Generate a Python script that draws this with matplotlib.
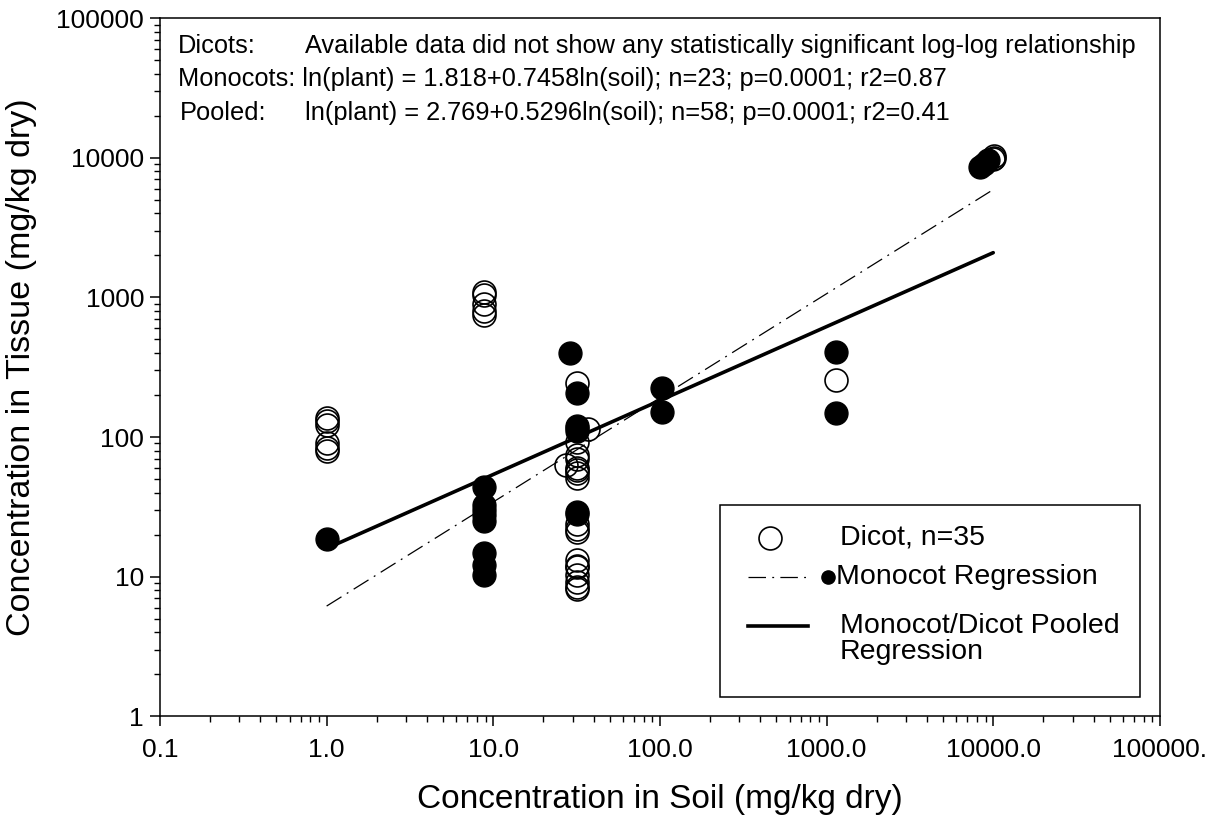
from matplotlib import pyplot as plt
from matplotlib.lines import Line2D
from matplotlib.patches import Rectangle
import numpy as np

plt.rcParams['font.family'] = ['Liberation Sans', 'DejaVu Sans']

# dicot observations (open circles)
dicot_soil = [1.0, 1.0, 1.0, 1.0, 1.0, 1.0,
              8.8, 8.8, 8.8, 8.8, 8.8,
              27.5, 32, 37, 32, 32, 32, 32, 32, 32, 32,
              32, 32, 32, 32, 32, 32, 32, 32, 32,
              1135, 10070, 10070, 9900, 32]
dicot_tissue = [136, 130, 122, 90, 84, 80,
                1090, 1050, 905, 800, 745,
                63, 243, 115, 92, 75, 70, 58, 55, 51, 24,
                22, 20.8, 13.1, 12, 11.7, 10.2, 9.1, 8.5, 8.2,
                255, 10260, 9900, 9800, 60]

# monocot observations (filled circles)
mono_soil = [1.0,
             8.8, 8.8, 8.8, 8.8, 8.8, 8.8, 8.8,
             28.8, 32, 32, 32, 32, 32,
             103, 103,
             1135, 1135,
             8300, 9270, 8800, 8.8, 32]
mono_tissue = [18.5,
               43.7, 32.5, 27.5, 24.9, 14.7, 12.1, 10.2,
               400, 206, 117, 110, 29, 28,
               224, 150,
               405, 148,
               8570, 9610, 9000, 30, 120]

# regression equations shown on the chart
mono_a, mono_b = 1.818, 0.7458
pool_a, pool_b = 2.769, 0.5296
fit_range = [1.0, 10000.0]

xticks = [0.1, 1, 10, 100, 1000, 10000, 100000]
xticklabels = ["0.1", "1.0", "10.0", "100.0", "1000.0", "10000.0", "100000."]
yticks = [1, 10, 100, 1000, 10000, 100000]
yticklabels = ["1", "10", "100", "1000", "10000", "100000"]

fig = plt.figure(figsize=(12.12, 8.3), dpi=100)
ax = fig.add_axes([0.132, 0.137, 0.825, 0.841])
ax.set_xscale("log")
ax.set_yscale("log")
ax.set_xlim(0.1, 100000)
ax.set_ylim(1, 100000)

dashdot = (0, (14, 5, 1.5, 5))
xx = np.logspace(np.log10(fit_range[0]), np.log10(fit_range[1]), 200)
ax.plot(xx, np.exp(mono_a + mono_b*np.log(xx)), color="k", lw=0.9, ls=dashdot, zorder=2)
ax.plot(xx, np.exp(pool_a + pool_b*np.log(xx)), color="k", lw=2.6, solid_capstyle="round", zorder=2)
ax.plot(dicot_soil, dicot_tissue, ls="", marker="o", ms=16.5, mfc="none", mec="k", mew=1.2, zorder=3)
ax.plot(mono_soil, mono_tissue, ls="", marker="o", ms=16.5, mfc="k", mec="k", mew=1.0, zorder=4)

ax.set_xticks(xticks)
ax.set_xticklabels(xticklabels)
ax.set_yticks(yticks)
ax.set_yticklabels(yticklabels)
ax.tick_params(which="major", direction="out", length=7.5, width=1.1, labelsize=19, top=False, right=False)
ax.tick_params(which="minor", direction="out", length=4.5, width=1.0, top=False, right=False)
ax.tick_params(axis="x", which="major", pad=8)
ax.tick_params(axis="y", which="major", pad=4)
for s in ax.spines.values():
    s.set_linewidth(1.1)

ax.set_xlabel("Concentration in Soil (mg/kg dry)", fontsize=24, labelpad=16)
ax.set_ylabel("Concentration in Tissue (mg/kg dry)", fontsize=24.5, labelpad=14)

# equation text block
tk = dict(transform=ax.transAxes, fontsize=18.3, va="center", ha="left")
ax.text(0.018, 0.960, "Dicots:", **tk)
ax.text(0.145, 0.960, "Available data did not show any statistically significant log-log relationship", **tk)
ax.text(0.018, 0.9126, "Monocots: ln(plant) = 1.818+0.7458ln(soil); n=23; p=0.0001; r2=0.87", **tk)
ax.text(0.020, 0.864, "Pooled:", **tk)
ax.text(0.145, 0.864, "ln(plant) = 2.769+0.5296ln(soil); n=58; p=0.0001; r2=0.41", **tk)

# legend box drawn by hand
ax.add_patch(Rectangle((0.56, 0.027), 0.42, 0.275, transform=ax.transAxes,
                       fill=False, ec="k", lw=1.1, zorder=5))
lt = dict(transform=ax.transAxes, fontsize=20.5, va="center", ha="left", zorder=6)
ax.add_line(Line2D([0.61], [0.256], transform=ax.transAxes, ls="", marker="o", ms=16.5,
                   mfc="none", mec="k", mew=1.2, zorder=6))
ax.text(0.68, 0.256, "Dicot, n=35", **lt)
ax.add_line(Line2D([0.588, 0.648], [0.199], transform=ax.transAxes, color="k", lw=0.9,
                   ls=dashdot, zorder=6))
ax.add_line(Line2D([0.668], [0.199], transform=ax.transAxes, ls="", marker="o", ms=9.5,
                   mfc="k", mec="k", zorder=6))
ax.text(0.676, 0.199, "Monocot Regression", **lt)
ax.add_line(Line2D([0.588, 0.648], [0.129], transform=ax.transAxes, color="k", lw=2.6, zorder=6))
ax.text(0.68, 0.129, "Monocot/Dicot Pooled", **lt)
ax.text(0.68, 0.092, "Regression", **lt)

fig.savefig("out.png", dpi=100)
